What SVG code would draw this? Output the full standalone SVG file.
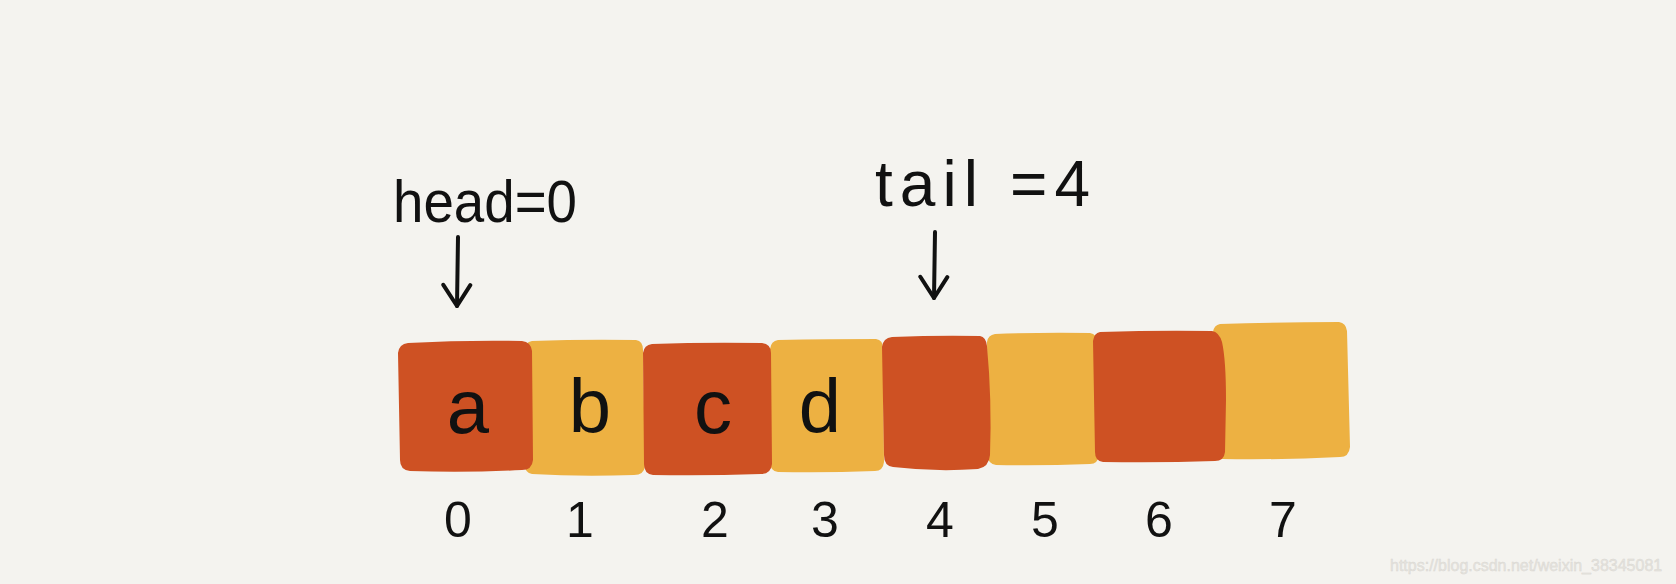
<svg xmlns="http://www.w3.org/2000/svg" width="1676" height="584" viewBox="0 0 1676 584">
<style>
.red{fill:#CE5123}
.yel{fill:#EDB142}
.hand{font-family:"Liberation Sans","DejaVu Sans",sans-serif;fill:#111}
.cell{font-size:76px;text-anchor:middle}
.idx{font-size:50px;text-anchor:middle}
.arrow{fill:none;stroke:#111;stroke-width:4;stroke-linecap:round;stroke-linejoin:round}
.wm{font-family:"Liberation Sans",Arial,sans-serif;font-size:16px;fill:#e6e4df;stroke:#d8d6d0;stroke-width:0.4}
</style>
<defs>
<marker id="vhead" viewBox="-24 -16 28 32" markerWidth="28" markerHeight="32" refX="0" refY="0" orient="auto" markerUnits="userSpaceOnUse">
<path d="M-21,-13 L0,0 L-21,14" fill="none" stroke="#111" stroke-width="4" stroke-linecap="round" stroke-linejoin="round"/>
</marker>
</defs>
<rect width="1676" height="584" fill="#F4F3EF"/>

<g id="cell1"><path class="yel" d="M532,341 Q585,339 636,340 Q643,341 643,350 L645,466 Q644,475 634,475 Q580,477 532,474 Q525,473 525,465 L524,350 Q525,342 532,341Z"/><text class="hand cell" x="590" y="432">b</text></g>
<g id="cell3"><path class="yel" d="M778,340 Q830,339 876,339 Q883,340 883,348 L884,462 Q883,471 875,471 Q825,473 778,472 Q770,471 770,462 L770,349 Q771,341 778,340Z"/><text class="hand cell" x="820" y="432">d</text></g>
<g id="cell5"><path class="yel" d="M995,334 Q1045,332 1090,333 Q1097,334 1097,342 L1099,455 Q1098,464 1090,464 Q1040,466 996,465 Q988,464 988,456 L987,342 Q988,335 995,334Z"/></g>
<g id="cell7"><path class="yel" d="M1220,324 Q1280,322 1339,322 Q1346,323 1347,331 L1350,447 Q1349,457 1340,457 Q1280,460 1222,459 Q1214,458 1214,449 L1213,332 Q1214,325 1220,324Z"/></g>

<g id="cell0"><path class="red" d="M408,343 Q465,340 522,341 Q531,342 532,351 L533,460 Q532,470 522,470 Q465,473 410,471 Q400,470 400,460 L398,353 Q399,344 408,343Z"/><text class="hand cell" x="468" y="433">a</text></g>
<g id="cell2"><path class="red" d="M652,344 Q705,342 762,343 Q771,344 771,353 L772,464 Q771,474 761,474 Q705,476 653,475 Q644,474 644,464 L643,353 Q644,345 652,344Z"/><text class="hand cell" x="713" y="433">c</text></g>
<g id="cell4"><path class="red" d="M892,337 Q940,335 980,336 Q986,337 987,346 Q992,400 990,455 Q989,467 978,469 Q935,472 893,467 Q884,466 884,455 L882,347 Q883,338 892,337Z"/></g>
<g id="cell6"><path class="red" d="M1100,332 Q1160,330 1212,331 Q1219,332 1222,342 Q1226,360 1226,400 L1225,452 Q1224,461 1215,461 Q1160,463 1103,462 Q1095,461 1095,452 L1093,341 Q1094,333 1100,332Z"/></g>

<g id="indices" class="hand idx">
<text x="458" y="537">0</text>
<text x="580" y="537">1</text>
<text x="715" y="537">2</text>
<text x="825" y="537">3</text>
<text x="940" y="537">4</text>
<text x="1045" y="537">5</text>
<text x="1159" y="537">6</text>
<text x="1283" y="537">7</text>
</g>

<g id="head-label"><text class="hand" font-size="60" x="393" y="222" textLength="184" lengthAdjust="spacingAndGlyphs">head=0</text></g>
<g id="tail-label"><text class="hand" font-size="64" x="875" y="206" textLength="215" lengthAdjust="spacing">tail =4</text></g>

<g id="connectors">
<path class="arrow" d="M458,237 L457,306" marker-end="url(#vhead)"/>
<path class="arrow" d="M935,232 L934,298" marker-end="url(#vhead)"/>
</g>

<text class="wm" x="1390" y="571">https://blog.csdn.net/weixin_38345081</text>
</svg>
